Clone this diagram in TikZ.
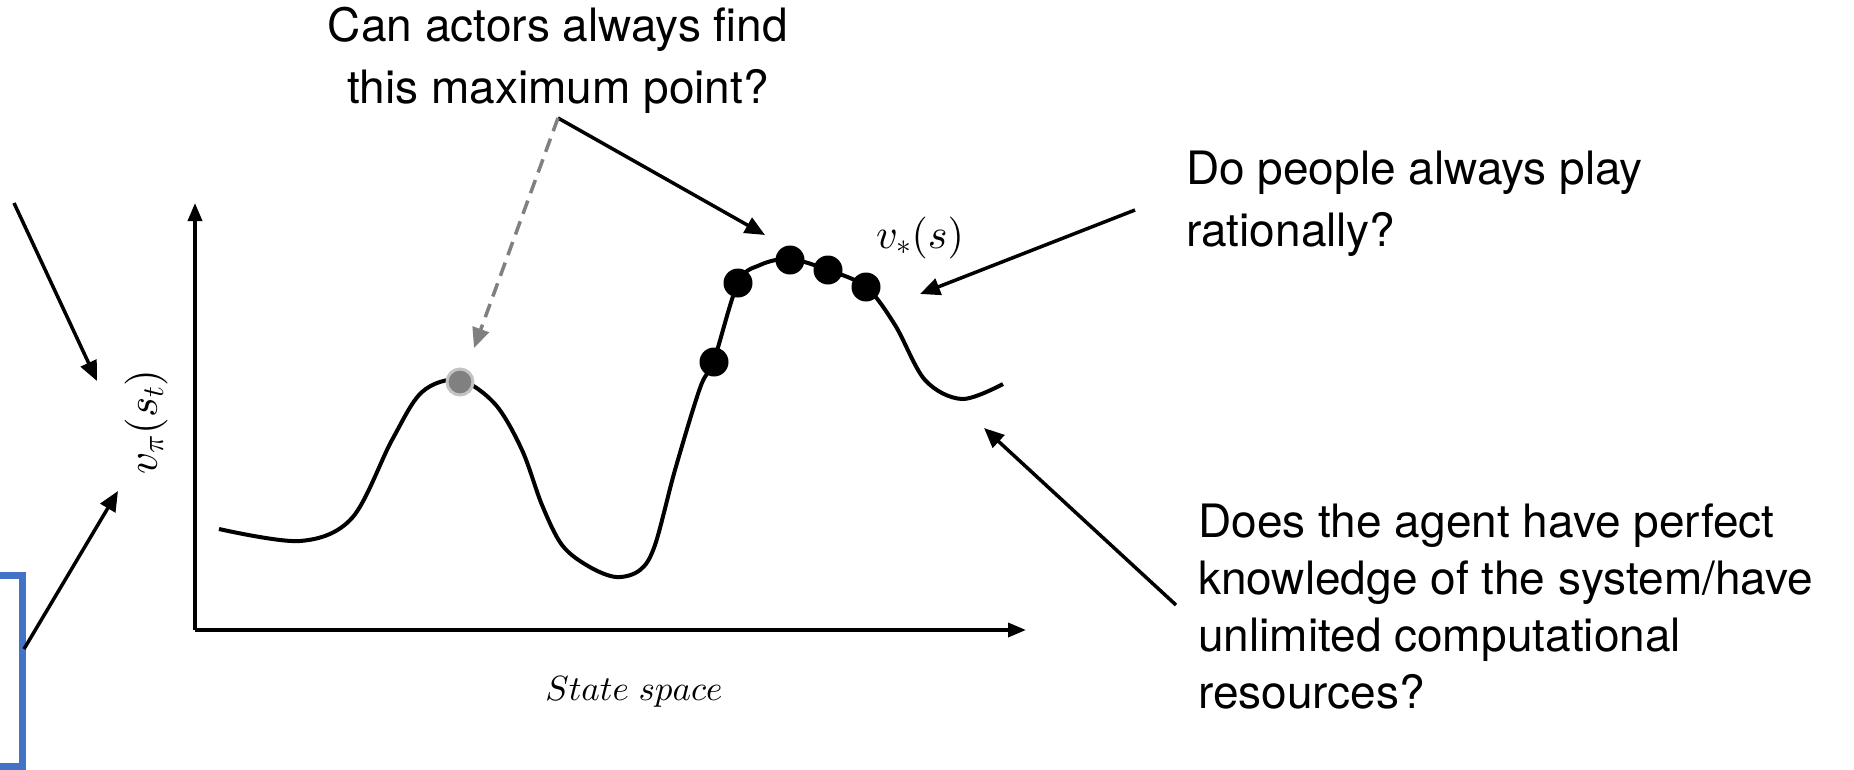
\documentclass[tikz,border=0pt]{standalone}
\DeclareFontShape{OML}{cmm}{m}{it}{<->cmmi10}{}
\DeclareFontShape{OMS}{cmsy}{m}{n}{<->cmsy10}{}
\DeclareFontShape{OT1}{cmr}{m}{n}{<->cmr10}{}
\usepackage{fontspec}
\setmainfont{TeX Gyre Heros}
\usetikzlibrary{arrows.meta}
\definecolor{bluebox}{RGB}{68,114,196}
\definecolor{dotgray}{RGB}{128,128,128}
\definecolor{ringgray}{RGB}{195,195,195}
\begin{document}
\begin{tikzpicture}[x=1pt,y=-1pt,
  txt/.style={inner sep=0pt, text=black},
  conn/.style={line width=3.5pt, -{Triangle[length=20pt,width=17pt]}},
  dconn/.style={line width=3.5pt, draw=dotgray, dash pattern=on 14pt off 8pt, -{Triangle[length=20pt,width=17pt]}},
  axisline/.style={line width=3.5pt, -{Triangle[length=18pt,width=14pt]}},
  blackdot/.style={circle, fill=black, inner sep=0pt, minimum size=29pt},
  graydot/.style={circle, fill=dotgray, draw=ringgray, line width=3pt, inner sep=0pt, minimum size=26pt},
  mathlbl/.style={font=\fontsize{42}{50}\selectfont, inner sep=0pt},
  curve/.style={line width=4pt, line join=round},
  boxline/.style={draw=bluebox, line width=7pt}]
\useasboundingbox (0,0) rectangle (1854,769);
\fill[white] (0,0) rectangle (1854,769);

% blue box (partly outside the picture)
\draw[boxline] (-40,575) rectangle (22,766);

% axes
\coordinate (origin) at (195,630);
\coordinate (ytip) at (195,203);
\coordinate (xtip) at (1026,630);
\draw[axisline] (origin) -- (ytip);
\draw[axisline] (origin) -- (xtip);

% value curve
\draw[curve] plot[smooth, tension=0.55] coordinates {
  (219,529) (300,541) (352,518) (392,440) (422,392) (459,380) (495,404)
  (522,450) (542,505) (562,545) (588,566) (616,577) (640,570) (655,545) (675,470) (700,388)
  (714,360) (738,283) (760,265) (790,259) (828,270) (866,287) (895,325)
  (925,380) (962,399) (1003,384)};

% dots
\node[graydot] (gd) at (460,382) {};
\node[blackdot] (d1) at (714,362) {};
\node[blackdot] (d2) at (738,283) {};
\node[blackdot] (d3) at (790,260) {};
\node[blackdot] (d4) at (828,270) {};
\node[blackdot] (d5) at (866,287) {};

% labels
\node[mathlbl, rotate=90, font=\fontsize{43}{50}\selectfont] (vpi) at (146,422) {$v_\pi(s_t)$};
\node[mathlbl] (vstar) at (920,238) {$v_*(s)$};
\node[mathlbl, font=\fontsize{35}{40}\selectfont] (sspace) at (634,692) {$State\ space$};

% question texts
\node[txt, align=center, font=\fontsize{46}{62}\selectfont] (qmax) at (558,60)
  {Can actors always find\\this maximum point?};
\node[txt, align=left, anchor=west, font=\fontsize{46}{62}\selectfont] (qrat) at (1186,204)
  {Do people always play\\rationally?};
\node[txt, align=left, anchor=west, font=\fontsize{46}{57}\selectfont] (qknow) at (1198,606)
  {Does the agent have perfect\\knowledge of the system/have\\unlimited computational\\resources?};

% arrow end points
\coordinate (a1s) at (14,203);  \coordinate (a1e) at (97,381);
\coordinate (a2s) at (24,649);  \coordinate (a2e) at (118,491);
\coordinate (a3s) at (558,118); \coordinate (a3e) at (765,235);
\coordinate (a4e) at (474,348);
\coordinate (a5s) at (1135,210); \coordinate (a5e) at (920,294);
\coordinate (a6s) at (1176,605); \coordinate (a6e) at (984,428);

\draw[conn] (a1s) -- (a1e);
\draw[conn] (a2s) -- (a2e);
\draw[conn] (a3s) -- (a3e);
\draw[dconn] (a3s) -- (a4e);
\draw[conn] (a5s) -- (a5e);
\draw[conn] (a6s) -- (a6e);
\end{tikzpicture}
\end{document}
